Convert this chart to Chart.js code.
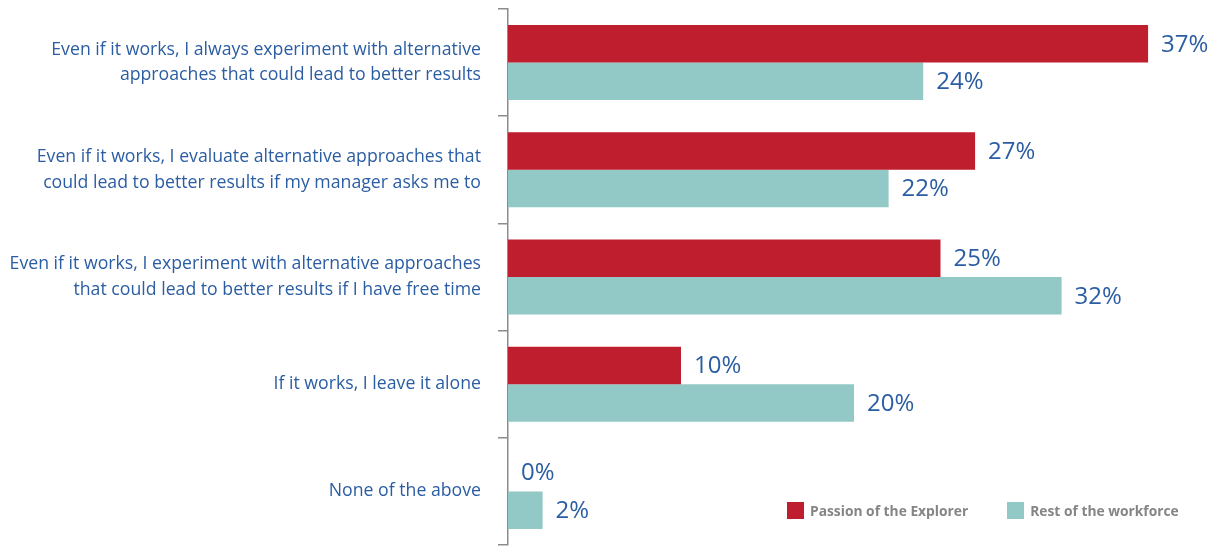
<!DOCTYPE html>
<html>
<head>
<meta charset="utf-8">
<script src="https://cdn.jsdelivr.net/npm/chart.js@4.4.1/dist/chart.umd.min.js"></script>
<style>
  html, body { margin: 0; padding: 0; background: #fff; }
  #wrap { position: relative; width: 1227px; height: 546px; }
  #legend { position: absolute; left: 787px; top: 502px; display: flex; font: bold 13.8px "Open Sans", sans-serif; color: #858585; }
  #legend .item { display: flex; align-items: center; height: 17px; }
  #legend .sw { width: 17px; height: 17px; margin-right: 6px; }
</style>
</head>
<body>
<div id="wrap">
  <canvas id="chart" width="1227" height="546"></canvas>
  <div id="legend"></div>
</div>
<script>
const categories = [
  ["Even if it works, I always experiment with alternative", "approaches that could lead to better results"],
  ["Even if it works, I evaluate alternative approaches that", "could lead to better results if my manager asks me to"],
  ["Even if it works, I experiment with alternative approaches", "that could lead to better results if I have free time"],
  "If it works, I leave it alone",
  "None of the above",
];
const explorer = [37, 27, 25, 10, 0];
const workforce = [24, 22, 32, 20, 2];
const seriesNames = ["Passion of the Explorer", "Rest of the workforce"];
const seriesColors = ["#BE1E2D", "#92C8C5"];

const BLUE = "#2B5DA3";
const AXIS = "#8C8C8C";

// value labels at the end of each bar
const valueLabels = {
  id: "valueLabels",
  afterDatasetsDraw(chart) {
    const ctx = chart.ctx;
    ctx.save();
    ctx.font = '24px "Open Sans", sans-serif';
    ctx.fillStyle = BLUE;
    ctx.textAlign = "left";
    ctx.textBaseline = "middle";
    chart.data.datasets.forEach((ds, i) => {
      chart.getDatasetMeta(i).data.forEach((bar, j) => {
        ctx.fillText(ds.data[j] + "%", bar.x + 13, bar.y + 1);
      });
    });
    ctx.restore();
  },
};

const chart = new Chart(document.getElementById("chart"), {
  type: "bar",
  data: {
    labels: categories,
    datasets: [
      { label: seriesNames[0], data: explorer, backgroundColor: seriesColors[0] },
      { label: seriesNames[1], data: workforce, backgroundColor: seriesColors[1] },
    ],
  },
  options: {
    indexAxis: "y",
    responsive: false,
    animation: false,
    layout: { padding: { top: 9, bottom: 1, left: 0, right: 27 } },
    datasets: { bar: { categoryPercentage: 0.7, barPercentage: 1.0 } },
    plugins: { legend: { display: false }, tooltip: { enabled: false } },
    scales: {
      x: { display: false, min: 0, max: 40 },
      y: {
        // fixed axis position, and no extra room reserved for the outer labels
        afterFit(scale) {
          scale.width = 508;
          scale.paddingTop = 0;
          scale.paddingBottom = 0;
        },
        border: { display: true, color: AXIS, width: 1.5 },
        grid: { drawOnChartArea: false, drawTicks: true, tickLength: 10, color: AXIS, lineWidth: 1.5 },
        ticks: {
          padding: 17,
          color: BLUE,
          font: { family: "'Open Sans', sans-serif", size: 17.7, lineHeight: 1.45 },
        },
      },
    },
  },
  plugins: [valueLabels],
});

document.getElementById("legend").innerHTML = seriesNames.map((n, i) =>
  `<div class="item" style="margin-right:${i === 0 ? 39 : 0}px"><span class="sw" style="background:${seriesColors[i]}"></span>${n}</div>`
).join("");
</script>
</body>
</html>
